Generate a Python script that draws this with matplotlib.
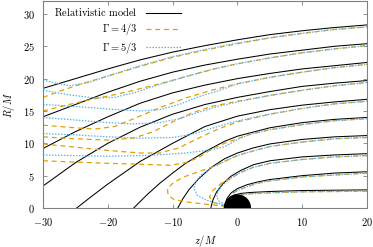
import matplotlib
matplotlib.use("Agg")
import matplotlib.pyplot as plt
from matplotlib.patches import Circle

plt.rcParams["mathtext.fontset"] = "cm"
plt.rcParams["font.size"] = 7.5

# streamlines, (z/M, R/M) points, outer to inner
relativistic = [
    [(-30, 18.5), (-25, 20.0), (-20, 21.5), (-15, 22.9), (-10, 24.1), (-5, 25.1), (0, 26.0), (5, 26.8), (10, 27.4), (15, 27.9), (20, 28.3)],
    [(-30, 14.1), (-25, 16.0), (-20, 17.9), (-15, 19.6), (-10, 21.0), (-5, 22.1), (0, 23.0), (5, 23.8), (10, 24.4), (15, 25.0), (20, 25.4)],
    [(-30, 9.2), (-25, 11.8), (-20, 14.1), (-15, 16.2), (-10, 17.8), (-5, 19.0), (0, 20.0), (5, 20.8), (10, 21.5), (15, 22.0), (20, 22.5)],
    [(-30, 3.4), (-25, 7.0), (-20, 10.0), (-15, 12.5), (-10, 14.5), (-5, 16.0), (0, 17.1), (5, 18.0), (10, 18.8), (15, 19.3), (20, 19.7)],
    [(-24.8, 0), (-22.5, 1.8), (-20, 3.7), (-15, 7.2), (-10, 10.0), (-5, 12.6), (0, 14.2), (5, 15.2), (10, 15.9), (15, 16.4), (20, 16.8)],
    [(-16, 0), (-14, 2.0), (-12, 3.8), (-10, 5.4), (-8, 6.9), (-5, 8.7), (-2, 10.3), (0, 11.1), (5, 12.4), (10, 13.2), (15, 13.7), (20, 14.0)],
    [(-9.2, 0), (-8.5, 1.3), (-7.5, 2.8), (-6, 4.5), (-4, 6.3), (-2, 7.6), (0, 8.5), (2.5, 9.3), (5, 9.9), (10, 10.6), (15, 11.0), (20, 11.2)],
    [(-4.1, 0), (-3.8, 1.2), (-3.2, 2.5), (-2.2, 3.8), (-1, 4.9), (0.5, 5.8), (2.5, 6.7), (5, 7.3), (10, 7.9), (15, 8.2), (20, 8.4)],
    [(-1.9, 0.6), (-1.6, 1.5), (-1.0, 2.3), (0, 3.0), (1.5, 3.6), (3, 4.0), (5, 4.4), (10, 5.0), (15, 5.4), (20, 5.6)],
    [(-1.1, 1.7), (-0.5, 2.0), (0.5, 2.25), (2, 2.4), (5, 2.55), (10, 2.7), (15, 2.75), (20, 2.8)],
]

gamma_43 = [
    [(-30, 17.1), (-27, 18.2), (-24, 19.2), (-20, 20.4), (-15, 21.9), (-10, 23.3), (-5, 24.4), (0, 25.4), (5, 26.3), (10, 27.0), (15, 27.6), (20, 28.0)],
    [(-30, 15.0), (-26, 16.0), (-22, 16.9), (-19, 17.5), (-16, 18.2), (-12, 19.2), (-8, 20.3), (-4, 21.4), (0, 22.3), (5, 23.2), (10, 24.0), (15, 24.6), (20, 25.1)],
    [(-30, 12.8), (-25, 12.4), (-22, 12.2), (-19, 12.6), (-16, 13.8), (-12, 15.5), (-8, 17.0), (-4, 18.2), (0, 19.2), (5, 20.2), (10, 21.0), (15, 21.7), (20, 22.2)],
    [(-30, 11.0), (-25, 10.7), (-20, 10.5), (-16, 10.8), (-13, 11.8), (-10, 13.3), (-7, 14.7), (-4, 15.7), (0, 16.5), (5, 17.4), (10, 18.2), (15, 18.9), (20, 19.4)],
    [(-30, 9.9), (-25, 9.4), (-20, 8.9), (-15, 8.5), (-12, 8.5), (-9, 9.3), (-6, 10.8), (-3, 12.2), (0, 13.3), (5, 14.5), (10, 15.4), (15, 16.1), (20, 16.5)],
    [(-30, 7.3), (-25, 7.1), (-20, 6.9), (-16, 6.8), (-10.4, 6.6), (-8, 7.0), (-6, 7.8), (-3.8, 9.2), (-2, 10.0), (0, 10.7), (2, 11.4), (5, 12.1), (10, 12.9), (15, 13.5), (20, 13.8)],
    [(20, 10.9), (15, 10.7), (10, 10.2), (5, 9.5), (2, 8.7), (0, 8.1), (-2, 7.2), (-4, 6.3), (-6, 5.6), (-8, 4.9), (-9.8, 4.0), (-10.8, 3.0), (-10.7, 2.0), (-9.8, 1.3), (-7.5, 0.9), (-5, 0.6), (-2, 0.3)],
    [(20, 8.1), (15, 7.9), (10, 7.5), (5, 6.9), (2.5, 6.3), (0.5, 5.5), (-1, 4.6), (-2.5, 3.8), (-3.8, 2.7), (-4.3, 1.7), (-3.8, 0.9), (-2.5, 0.4), (-1.8, 0.3)],
    [(20, 5.4), (10, 4.8), (5, 4.2), (3, 3.8), (1.5, 3.3), (0, 2.7), (-0.8, 2.2)],
    [(20, 2.6), (10, 2.5), (5, 2.35), (2, 2.2), (0.5, 2.05)],
]

gamma_53 = [
    [(-30, 19.8), (-28, 19.3), (-25.8, 18.9), (-23, 19.4), (-20, 20.4), (-15, 22.0), (-10, 23.4), (-5, 24.5), (0, 25.5), (5, 26.3), (10, 27.0), (15, 27.6), (20, 28.0)],
    [(-30, 18.2), (-26, 17.5), (-22, 17.0), (-19, 17.1), (-16, 17.8), (-12, 19.1), (-8, 20.3), (-4, 21.4), (0, 22.3), (5, 23.2), (10, 24.0), (15, 24.6), (20, 25.1)],
    [(-30, 16.0), (-25, 15.7), (-20, 15.3), (-15, 15.0), (-12, 15.2), (-9, 16.0), (-6, 17.2), (-3, 18.1), (0, 19.2), (5, 20.2), (10, 21.0), (15, 21.7), (20, 22.2)],
    [(-30, 14.0), (-25, 13.6), (-20, 13.2), (-16, 13.0), (-12, 13.2), (-9, 13.8), (-6, 14.8), (-3, 15.7), (0, 16.4), (5, 17.4), (10, 18.2), (15, 18.9), (20, 19.4)],
    [(-30, 11.5), (-25, 11.3), (-20, 11.0), (-15, 10.8), (-10, 10.9), (-7, 11.4), (-4, 12.3), (-1, 13.2), (2, 13.9), (5, 14.5), (10, 15.4), (15, 16.1), (20, 16.5)],
    [(-30, 8.2), (-25, 8.1), (-20, 8.0), (-15, 8.1), (-12.5, 8.2), (-8, 8.5), (-4, 9.0), (-2.2, 9.4), (-1, 10.0), (0, 10.6), (2, 11.4), (5, 12.1), (10, 12.9), (15, 13.5), (20, 13.8)],
    [(20, 10.9), (15, 10.7), (10, 10.2), (5, 9.5), (2, 8.7), (0, 8.1), (-2, 7.2), (-4, 6.2), (-5.5, 5.2), (-6.5, 4.0), (-6.7, 3.0), (-6.2, 2.0), (-5, 1.3), (-3.5, 0.8), (-2, 0.5)],
    [(20, 8.1), (15, 7.9), (10, 7.5), (5, 6.9), (2.5, 6.3), (0.5, 5.5), (-1, 4.6), (-2.2, 3.6), (-3, 2.6), (-3.2, 1.7), (-2.8, 1.0), (-2, 0.6)],
    [(20, 5.4), (10, 4.8), (5, 4.2), (3, 3.8), (1.5, 3.3), (0, 2.7), (-0.8, 2.2)],
    [(20, 2.6), (10, 2.5), (5, 2.35), (2, 2.2), (0.5, 2.05)],
]

x_ticks = [-30, -20, -10, 0, 10, 20]
y_ticks = [0, 5, 10, 15, 20, 25, 30]
horizon = 2.0

fig = plt.figure(figsize=(3.73, 2.47), dpi=100)
ax = fig.add_axes([43 / 373, 39 / 247, 324 / 373, 207 / 247])

def draw(curves, **kw):
    line = None
    for c in curves:
        zs = [p[0] for p in c]
        rs = [p[1] for p in c]
        line, = ax.plot(zs, rs, **kw)
    return line

l1 = draw(relativistic, color="black", lw=0.75)
l2 = draw(gamma_43, color="#E69F00", lw=0.9, dashes=(4, 3))
l3 = draw(gamma_53, color="#56B4E9", lw=0.9, dashes=(1.2, 1.2))

ax.add_patch(Circle((0, 0), horizon, color="black", zorder=5))

ax.set_xlim(-30, 20)
ax.set_ylim(0, 32)
ax.set_xticks(x_ticks)
ax.set_xticklabels(["$%d$" % t for t in x_ticks])
ax.set_yticks(y_ticks)
ax.set_yticklabels(["$%d$" % t for t in y_ticks])
ax.tick_params(direction="in", top=True, right=True, length=3, width=0.6,
               color="#808080", pad=6, labelsize=7.5)
for s in ax.spines.values():
    s.set_color("#808080")
    s.set_linewidth(0.8)

ax.set_xlabel("$z/M$", labelpad=3)
ax.set_ylabel("$R/M$", labelpad=4)

ax.legend([l1, l2, l3],
          [r"$\mathrm{Relativistic\ model}$", r"$\Gamma = 4/3$", r"$\Gamma = 5/3$"],
          loc="upper left", bbox_to_anchor=(0.005, 1.02), frameon=False,
          markerfirst=False, handlelength=3.4, labelspacing=0.28, fontsize=7.5)

fig.savefig("out.png", dpi=100)
